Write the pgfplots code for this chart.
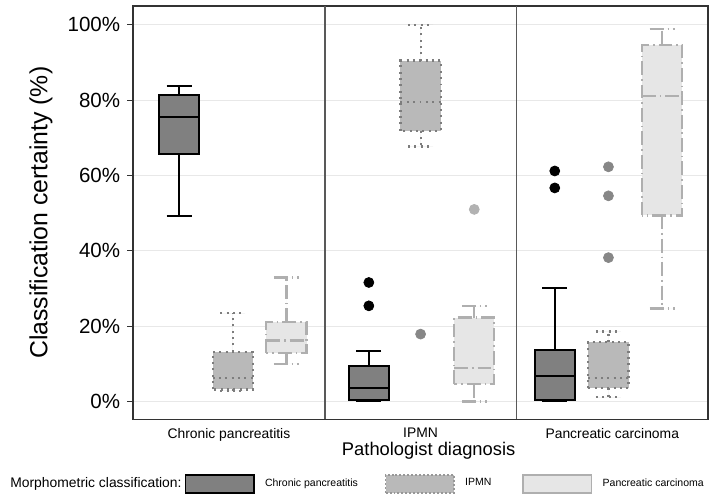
\documentclass[border=0pt]{standalone}
\usepackage{fontspec}
\setmainfont{Liberation Sans}
\usepackage{pgfplots}
\pgfplotsset{compat=1.18}
\usepgfplotslibrary{statistics}

\definecolor{cpfill}{HTML}{808080}
\definecolor{ipfill}{HTML}{B9B9B9}
\definecolor{ipline}{HTML}{7D7D7D}
\definecolor{pcfill}{HTML}{E6E6E6}
\definecolor{pcline}{HTML}{AFAFAF}

\pgfplotsset{
  cpbox/.style={draw=black, fill=cpfill, line width=1pt, solid, forget plot},
  ipbox/.style={draw=ipline, fill=ipfill, line width=1.1pt, dash pattern=on 1pt off 2.2pt, forget plot},
  pcbox/.style={draw=pcline, fill=pcfill, line width=1.1pt, dash pattern=on 7pt off 2pt on 0.8pt off 2pt, forget plot},
  outl/.style={only marks, mark=*, mark size=2.5pt, forget plot},
  boxplot/draw direction=y,
}

\begin{document}
\begin{tikzpicture}
\begin{axis}[
  width=290pt, height=208.5pt, scale only axis,
  xmin=-0.5, xmax=2.5, ymin=-4.74, ymax=105,
  xtick={0,1,2},
  xticklabels={Chronic pancreatitis, IPMN, Pancreatic carcinoma},
  xtick style={draw=none},
  xticklabel style={font=\fontsize{7}{8.4}\selectfont, yshift=2pt},
  extra x ticks={0.5,1.5}, extra x tick labels={},
  extra x tick style={xmajorgrids=true, major grid style={black!65, line width=0.8pt}, tick style={draw=none}},
  ytick={0,20,40,60,80,100},
  yticklabels={0\%,20\%,40\%,60\%,80\%,100\%},
  yticklabel style={font=\fontsize{10.35}{12}\selectfont},
  ytick pos=left, tick align=outside, major tick length=3pt,
  ytick style={black!80, line width=0.6pt},
  ymajorgrids, grid style={black!9, line width=0.6pt},
  axis line style={black!80, line width=0.9pt},
  every axis y label/.style={at={(axis description cs:-0.16,0.5)}, rotate=90, anchor=center},
  ylabel={\fontsize{12.5}{15}\selectfont Classification certainty (\%)},
  every axis x label/.style={at={(axis description cs:0.514,0)}, anchor=center, yshift=-16pt},
  xlabel={\fontsize{9.25}{11}\selectfont Pathologist diagnosis},
  legend columns=4, legend cell align=left,
  legend style={at={(1,0)}, anchor=east, yshift=-32.5pt, draw=none, fill=none,
    inner sep=0pt, font=\fontsize{5.3}{6.4}\selectfont,
    /tikz/every odd column/.append style={column sep=3.2pt},
    /tikz/every even column/.append style={column sep=11.5pt}},
]
% Chronic pancreatitis
\addplot[cpbox, boxplot prepared={draw position=-0.26, lower whisker=49.2, lower quartile=65.6,
  median=75.4, upper quartile=81.4, upper whisker=83.7, box extend=0.21, whisker extend=0.13}] coordinates {};
\addplot[ipbox, boxplot prepared={draw position=0.02, lower whisker=2.9, lower quartile=3.2,
  median=6.3, upper quartile=13.2, upper whisker=23.4, box extend=0.21, whisker extend=0.13}] coordinates {};
\addplot[pcbox, boxplot prepared={draw position=0.30, lower whisker=10.0, lower quartile=12.9,
  median=16.2, upper quartile=21.1, upper whisker=32.9, box extend=0.21, whisker extend=0.13}] coordinates {};
% IPMN
\addplot[cpbox, boxplot prepared={draw position=0.73, lower whisker=0.2, lower quartile=0.5,
  median=3.5, upper quartile=9.5, upper whisker=13.4, box extend=0.21, whisker extend=0.13}] coordinates {};
\addplot[ipbox, boxplot prepared={draw position=1.0, lower whisker=67.7, lower quartile=71.9,
  median=79.6, upper quartile=90.5, upper whisker=100, box extend=0.21, whisker extend=0.13}] coordinates {};
\addplot[pcbox, boxplot prepared={draw position=1.28, lower whisker=0, lower quartile=4.6,
  median=8.9, upper quartile=22.3, upper whisker=25.3, box extend=0.21, whisker extend=0.13}] coordinates {};
% Pancreatic carcinoma
\addplot[cpbox, boxplot prepared={draw position=1.70, lower whisker=0.2, lower quartile=0.5,
  median=6.8, upper quartile=13.8, upper whisker=30.1, box extend=0.21, whisker extend=0.13}] coordinates {};
\addplot[ipbox, boxplot prepared={draw position=1.98, lower whisker=1.2, lower quartile=3.5,
  median=6.3, upper quartile=15.8, upper whisker=18.6, box extend=0.21, whisker extend=0.13}] coordinates {};
\addplot[pcbox, boxplot prepared={draw position=2.26, lower whisker=24.7, lower quartile=49.4,
  median=81.2, upper quartile=94.7, upper whisker=98.9, box extend=0.21, whisker extend=0.13}] coordinates {};
% outliers
\addplot[outl, black] coordinates {(0.73,31.6) (0.73,25.4) (1.70,61.2) (1.70,56.7)};
\addplot[outl, color=black!47] coordinates {(1.0,17.9) (1.98,62.3) (1.98,54.6) (1.98,38.2)};
\addplot[outl, color=black!30] coordinates {(1.28,51.0)};
% legend
\addlegendimage{empty legend}
\addlegendentry{\fontsize{7}{8.4}\selectfont Morphometric classification:\hspace*{-12pt}}
\addlegendimage{legend image code/.code={\draw[fill=cpfill, draw=black, line width=0.9pt] (0pt,-4.5pt) rectangle (34.5pt,4.5pt);}}
\addlegendentry{Chronic pancreatitis}
\addlegendimage{legend image code/.code={\draw[fill=ipfill, draw=ipline!80, line width=0.9pt, dash pattern=on 1pt off 1pt] (0pt,-4.5pt) rectangle (34.5pt,4.5pt);}}
\addlegendentry{IPMN\hspace*{2pt}}
\addlegendimage{legend image code/.code={\draw[fill=pcfill, draw=pcline, line width=0.9pt] (0pt,-4.5pt) rectangle (34.5pt,4.5pt);}}
\addlegendentry{Pancreatic carcinoma}
\end{axis}
\end{tikzpicture}
\end{document}
